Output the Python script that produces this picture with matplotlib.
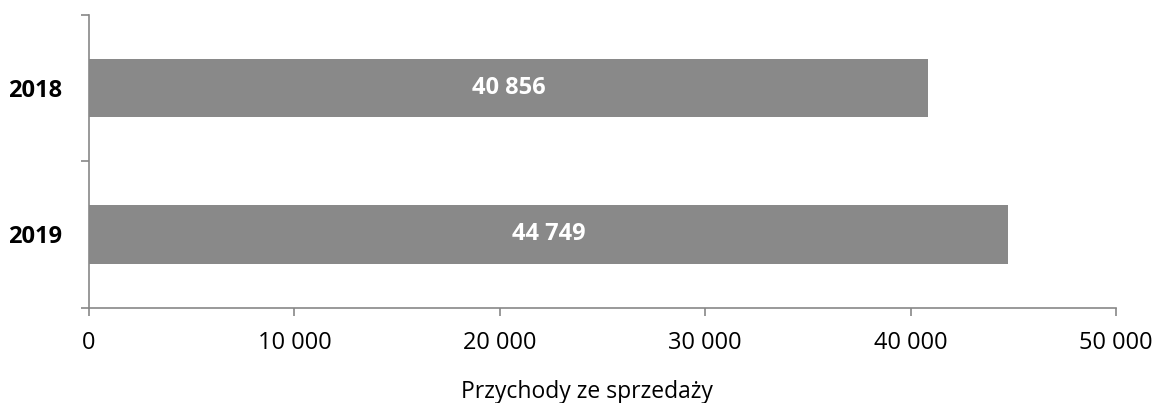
import matplotlib.pyplot as plt
from matplotlib.ticker import FuncFormatter

plt.rcParams['font.family'] = ['Open Sans', 'DejaVu Sans']

years = ['2018', '2019']
revenue = [40856, 44749]
x_ticks = [0, 10000, 20000, 30000, 40000, 50000]
axis_label = 'Przychody ze sprzedaży'

bar_color = '#898989'
line_color = '#878787'


def fmt(v, pos=None):
    return f'{int(v):,}'.replace(',', ' ')


fig = plt.figure(figsize=(11.54, 4.03), dpi=100)
ax = fig.add_axes([89 / 1154, 1 - 307.5 / 403, (1116 - 89) / 1154, (307.5 - 15) / 403])

pos = list(range(len(years)))
ax.barh(pos, revenue, height=0.4, color=bar_color, zorder=2)
for p, v in zip(pos, revenue):
    ax.text(v / 2, p, fmt(v), ha='center', va='center', color='white',
            fontsize=17, fontweight='bold')

ax.set_xlim(0, 50000)
ax.set_ylim(len(years) - 0.5, -0.5)

ax.set_xticks(x_ticks)
ax.xaxis.set_major_formatter(FuncFormatter(fmt))
ax.tick_params(axis='x', length=6, width=1.2, color=line_color, labelsize=17, pad=11)

# boundaries as major ticks, category names as minor ticks
ax.set_yticks([i - 0.5 for i in range(len(years) + 1)])
ax.set_yticklabels([])
ax.set_yticks(pos, minor=True)
ax.set_yticklabels(years, minor=True, fontsize=17, fontweight='bold')
ax.tick_params(axis='y', which='major', direction='out', length=6, width=1.2, color=line_color)
ax.tick_params(axis='y', which='minor', length=0, pad=19)

for s in ['top', 'right']:
    ax.spines[s].set_visible(False)
for s in ['left', 'bottom']:
    ax.spines[s].set_color(line_color)
    ax.spines[s].set_linewidth(1.2)

ax.set_xlabel(axis_label, fontsize=16.5)
ax.xaxis.set_label_coords(0.485, -0.249, transform=ax.transAxes)
ax.xaxis.label.set_va('top')

fig.savefig('out.png', dpi=100)
